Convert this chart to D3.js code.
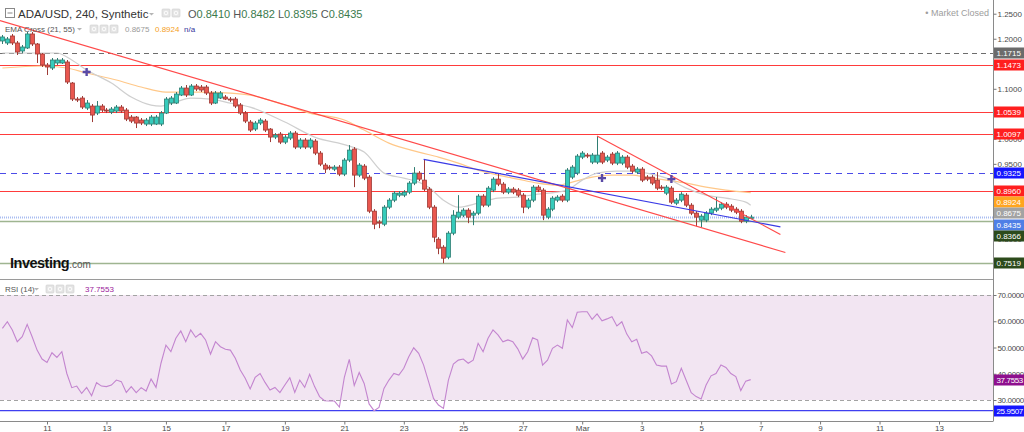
<!DOCTYPE html>
<html>
<head>
<meta charset="utf-8">
<script src="https://cdn.jsdelivr.net/npm/d3@7"></script>
<style>
  body { margin: 0; background: #fff; }
  svg { display: block; font-family: "Liberation Sans", Arial, sans-serif; }
</style>
</head>
<body>
<svg id="chart"></svg>
<script>
// ADA/USD 4h candles, first bar Feb 9 2021 12:00 UTC
const firstBar = Date.UTC(2021, 1, 9, 12);
const barHours = 4;

const opens = [
  1.1955, 1.1915, 1.2055, 1.1915, 1.1755, 1.1815, 1.2095, 1.1895, 1.1695, 1.1475,
  1.1415, 1.1515, 1.1515, 1.1535, 1.1115, 1.0795, 1.0815, 1.0615, 1.0655, 1.0515,
  1.0655, 1.0575, 1.0535, 1.0555, 1.0635, 1.0575, 1.0435, 1.0435, 1.0375, 1.0295,
  1.0295, 1.0295, 1.0295, 1.0515, 1.0715, 1.0715, 1.0875, 1.1015, 1.0875, 1.1055,
  1.1035, 1.1035, 1.0915, 1.0715, 1.0815, 1.0835, 1.0795, 1.0795, 1.0675, 1.0515,
  1.0335, 1.0195, 1.0315, 1.0355, 1.0195, 1.0035, 1.0095, 0.9935, 1.0015, 1.0115,
  0.9835, 0.9975, 0.9835, 0.9955, 0.9715, 0.9475, 0.9435, 0.9395, 0.9435, 0.9295,
  0.9575, 0.9795, 0.9275, 0.9455, 0.9235, 0.8555, 0.8335, 0.8295, 0.8635, 0.8775,
  0.8875, 0.8875, 0.8935, 0.9115, 0.9315, 0.9175, 0.8995, 0.8635, 0.7995, 0.7835,
  0.7635, 0.8115, 0.8435, 0.8475, 0.8575, 0.8475, 0.8515, 0.8855, 0.8675, 0.8975,
  0.9195, 0.9095, 0.8935, 0.8995, 0.8975, 0.8875, 0.8635, 0.8775, 0.9035, 0.8975,
  0.8435, 0.8595, 0.8775, 0.8855, 0.8775, 0.9235, 0.9315, 0.9635, 0.9675, 0.9535,
  0.9535, 0.9715, 0.9575, 0.9695, 0.9515, 0.9515, 0.9635, 0.9455, 0.9335, 0.9395,
  0.9235, 0.9235, 0.9175, 0.9035, 0.8915, 0.9015, 0.8715, 0.8775, 0.8875, 0.8675,
  0.8515, 0.8375, 0.8375, 0.8515, 0.8575, 0.8615, 0.8695, 0.8655, 0.8595, 0.8555,
  0.8355, 0.8410
];
const highs = [
  1.2075, 1.2035, 1.2095, 1.1955, 1.1875, 1.2135, 1.2135, 1.1915, 1.1715, 1.1515,
  1.1615, 1.1615, 1.1615, 1.1575, 1.1135, 1.0835, 1.0855, 1.0775, 1.0695, 1.0755,
  1.0695, 1.0615, 1.0635, 1.0675, 1.0675, 1.0615, 1.0475, 1.0455, 1.0415, 1.0415,
  1.0475, 1.0475, 1.0555, 1.0835, 1.0855, 1.0935, 1.1055, 1.1075, 1.1095, 1.1095,
  1.1075, 1.1075, 1.0955, 1.0955, 1.0955, 1.0875, 1.0835, 1.0835, 1.0715, 1.0555,
  1.0375, 1.0355, 1.0415, 1.0395, 1.0215, 1.0115, 1.0135, 1.0075, 1.0155, 1.0155,
  1.0015, 1.0015, 1.0015, 0.9995, 0.9755, 0.9515, 0.9475, 0.9475, 0.9475, 0.9615,
  0.9875, 0.9835, 0.9515, 0.9495, 0.9275, 0.8595, 0.8375, 0.8675, 0.8815, 0.8955,
  0.8955, 0.8975, 0.9155, 0.9435, 0.9355, 0.9595, 0.9035, 0.8675, 0.8035, 0.7875,
  0.8155, 0.8575, 0.8875, 0.8615, 0.8615, 0.8555, 0.8895, 0.8895, 0.9055, 0.9235,
  0.9315, 0.9135, 0.9035, 0.9035, 0.9015, 0.8915, 0.8815, 0.9075, 0.9075, 0.9015,
  0.8635, 0.8855, 0.8875, 0.8895, 0.9415, 0.9475, 0.9695, 0.9755, 0.9715, 0.9715,
  1.0055, 0.9755, 0.9675, 0.9735, 0.9755, 0.9675, 0.9675, 0.9495, 0.9435, 0.9435,
  0.9275, 0.9275, 0.9335, 0.9075, 0.9075, 0.9055, 0.8815, 0.8935, 0.8915, 0.8715,
  0.8555, 0.8495, 0.8555, 0.8635, 0.8835, 0.8735, 0.8735, 0.8695, 0.8635, 0.8595,
  0.8475, 0.8482
];
const lows = [
  1.1895, 1.1875, 1.1875, 1.1675, 1.1715, 1.1795, 1.1855, 1.1515, 1.1435, 1.1275,
  1.1375, 1.1475, 1.1495, 1.1095, 1.0755, 1.0735, 1.0595, 1.0575, 1.0335, 1.0475,
  1.0535, 1.0515, 1.0495, 1.0515, 1.0515, 1.0355, 1.0315, 1.0215, 1.0275, 1.0255,
  1.0255, 1.0275, 1.0255, 1.0495, 1.0675, 1.0695, 1.0855, 1.0835, 1.0855, 1.0955,
  1.0935, 1.0875, 1.0675, 1.0695, 1.0795, 1.0775, 1.0735, 1.0615, 1.0475, 1.0315,
  1.0135, 1.0155, 1.0275, 1.0135, 0.9935, 0.9995, 0.9895, 0.9895, 0.9975, 0.9795,
  0.9795, 0.9795, 0.9795, 0.9675, 0.9455, 0.9315, 0.9375, 0.9355, 0.9255, 0.9255,
  0.9535, 0.9035, 0.9235, 0.9175, 0.8515, 0.8195, 0.8215, 0.8255, 0.8595, 0.8735,
  0.8835, 0.8835, 0.8895, 0.9075, 0.9155, 0.8955, 0.8595, 0.7935, 0.7695, 0.7515,
  0.7595, 0.8075, 0.8395, 0.8435, 0.8315, 0.8275, 0.8475, 0.8635, 0.8635, 0.8935,
  0.9055, 0.8895, 0.8895, 0.8895, 0.8835, 0.8515, 0.8595, 0.8735, 0.8935, 0.8375,
  0.8395, 0.8555, 0.8735, 0.8735, 0.8735, 0.9195, 0.9275, 0.9595, 0.9615, 0.9495,
  0.9495, 0.9495, 0.9535, 0.9475, 0.9475, 0.9475, 0.9395, 0.9315, 0.9295, 0.9135,
  0.9155, 0.9075, 0.8975, 0.8975, 0.8875, 0.8695, 0.8675, 0.8735, 0.8635, 0.8475,
  0.8255, 0.8235, 0.8335, 0.8475, 0.8535, 0.8575, 0.8595, 0.8535, 0.8495, 0.8315,
  0.8315, 0.8395
];
const closes = [
  1.2035, 1.1995, 1.1915, 1.1735, 1.1835, 1.2095, 1.1895, 1.1695, 1.1475, 1.1435,
  1.1575, 1.1575, 1.1575, 1.1135, 1.0795, 1.0775, 1.0635, 1.0715, 1.0475, 1.0655,
  1.0575, 1.0555, 1.0595, 1.0635, 1.0555, 1.0395, 1.0355, 1.0315, 1.0315, 1.0375,
  1.0435, 1.0435, 1.0515, 1.0795, 1.0815, 1.0895, 1.1015, 1.0875, 1.1055, 1.0995,
  1.0975, 1.0915, 1.0715, 1.0915, 1.0915, 1.0795, 1.0775, 1.0655, 1.0515, 1.0355,
  1.0175, 1.0315, 1.0375, 1.0175, 1.0035, 1.0075, 0.9935, 1.0035, 1.0115, 0.9835,
  0.9975, 0.9835, 0.9975, 0.9715, 0.9495, 0.9395, 0.9415, 0.9435, 0.9295, 0.9575,
  0.9775, 0.9275, 0.9475, 0.9215, 0.8555, 0.8295, 0.8315, 0.8635, 0.8775, 0.8915,
  0.8915, 0.8935, 0.9115, 0.9315, 0.9195, 0.8995, 0.8635, 0.8035, 0.7815, 0.7615,
  0.8115, 0.8475, 0.8535, 0.8575, 0.8435, 0.8515, 0.8855, 0.8675, 0.9015, 0.9195,
  0.9095, 0.8935, 0.8995, 0.8935, 0.8875, 0.8635, 0.8775, 0.9035, 0.8975, 0.8475,
  0.8595, 0.8815, 0.8835, 0.8775, 0.9375, 0.9435, 0.9655, 0.9715, 0.9655, 0.9675,
  0.9675, 0.9535, 0.9635, 0.9515, 0.9715, 0.9635, 0.9435, 0.9355, 0.9395, 0.9175,
  0.9195, 0.9115, 0.9015, 0.9015, 0.9035, 0.8735, 0.8775, 0.8895, 0.8675, 0.8515,
  0.8435, 0.8455, 0.8515, 0.8595, 0.8615, 0.8695, 0.8635, 0.8575, 0.8535, 0.8355,
  0.8435, 0.8435
];

// EMA cross (21, 55) at a few bars
const ema21Bars = [0, 11, 14, 17, 22, 26, 30, 32, 35, 38, 42, 46, 50, 57, 63, 70, 73, 77, 81, 84,
  86, 89, 92, 96, 100, 104, 108, 112, 114, 117, 120, 124, 127, 130, 134, 138, 142, 146, 150, 151];
const ema21Values = [1.1715, 1.1715, 1.1575, 1.1375, 1.1115, 1.0835, 1.0675, 1.0655, 1.0735, 1.0815,
  1.0795, 1.0715, 1.0635, 1.0335, 1.0035, 0.9855, 0.9735, 0.9315, 0.9215, 0.9135,
  0.9035, 0.8775, 0.8635, 0.8715, 0.8815, 0.8835, 0.8895, 0.8935, 0.8975, 0.9175,
  0.9315, 0.9355, 0.9355, 0.9315, 0.9215, 0.9015, 0.8875, 0.8815, 0.8735, 0.8675];
const ema55Bars = [0, 8, 13, 17, 23, 28, 33, 40, 46, 50, 57, 62, 69, 73, 78, 84, 88, 92, 96, 100,
  104, 108, 112, 115, 119, 123, 127, 130, 134, 138, 142, 146, 151];
const ema55Values = [1.1415, 1.1455, 1.1415, 1.1315, 1.1175, 1.1035, 1.0935, 1.0935, 1.0915, 1.0875,
  1.0675, 1.0515, 1.0375, 1.0175, 0.9915, 0.9735, 0.9635, 0.9515, 0.9375, 0.9275,
  0.9195, 0.9115, 0.9075, 0.9135, 0.9235, 0.9275, 0.9275, 0.9235, 0.9175, 0.9115,
  0.9035, 0.8975, 0.8924];
const crossBars = [17, 121, 135];
const crossPrices = [1.1335, 0.9215, 0.9195];

// RSI (14), one value per bar
const rsiValues = [
  57.3, 59.8, 56.7, 52.2, 54.1, 58.8, 54.1, 49.0, 45.6, 44.3,
  48.0, 46.2, 48.4, 40.1, 34.7, 35.3, 32.5, 34.8, 31.6, 36.6,
  35.3, 35.1, 35.7, 37.6, 37.0, 32.9, 35.1, 32.8, 34.7, 33.4,
  38.0, 34.8, 44.0, 50.9, 48.4, 53.5, 56.3, 52.2, 56.7, 53.9,
  55.4, 52.9, 47.5, 52.2, 50.3, 49.3, 49.0, 45.9, 41.4, 38.3,
  34.2, 38.6, 40.1, 36.7, 33.8, 34.8, 32.8, 35.7, 38.5, 32.9,
  37.6, 34.8, 39.8, 35.1, 31.3, 29.7, 29.6, 29.6, 27.3, 38.6,
  45.5, 35.5, 40.5, 36.3, 28.5, 25.95, 27.2, 34.4, 37.6, 40.1,
  39.5, 42.1, 46.5, 49.9, 47.8, 43.3, 37.0, 30.6, 28.1, 26.8,
  37.6, 43.7, 45.2, 45.6, 44.0, 45.2, 51.6, 48.4, 53.5, 56.7,
  54.8, 52.2, 52.9, 52.2, 49.5, 45.6, 48.4, 53.7, 52.9, 43.3,
  45.2, 49.7, 50.9, 49.7, 60.5, 57.6, 63.4, 63.6, 63.6, 60.7,
  62.8, 60.2, 60.9, 61.7, 58.2, 59.8, 55.1, 52.2, 53.1, 47.8,
  48.4, 46.8, 43.3, 42.9, 42.9, 36.1, 37.0, 42.1, 37.4, 32.8,
  31.3, 30.4, 35.7, 39.2, 40.1, 43.3, 42.4, 40.1, 38.9, 33.6,
  37.2, 37.7553
];

// Horizontal levels and trend lines drawn on the chart
const levelPrices = [1.1715, 1.1473, 1.0539, 1.0097, 0.9325, 0.8960, 0.8435, 0.8366, 0.7519];
const levelKinds = ['grayDash', 'red', 'red', 'red', 'blueDash', 'red', 'lastDot', 'green', 'green'];
const trendStartBars = [-0.5, 120, 85];
const trendStartPrices = [1.2361, 1.0055, 0.9589];
const trendEndBars = [158, 157, 157];
const trendEndPrices = [0.7729, 0.8089, 0.8241];
const trendKinds = ['red', 'red', 'blue'];

// Right-hand price tags
const tagPrices = [1.1715, 1.1473, 1.0539, 1.0097, 0.9325, 0.8960, 0.8924, 0.8675, 0.8435, 0.8366, 0.7519];
const tagKinds = ['gray', 'red', 'red', 'red', 'blue', 'red', 'orange', 'silver', 'last', 'green', 'green'];
const rsiLevel = 25.9507;
const rsiTags = [37.7553, 25.9507];
const rsiTagKinds = ['purple', 'blue'];

const priceTicks = [1.25, 1.2, 1.15, 1.1, 1.05, 1.0, 0.95, 0.9, 0.85, 0.8, 0.75];
const rsiTicks = [70, 60, 50, 40, 30];
const ohlcLabels = ['O', 'H', 'L', 'C'];
const ohlcValues = ['0.8410', '0.8482', '0.8395', '0.8435'];

class CandleChart {

    constructor(_config) {
        this.config = {
            parentElement: _config.parentElement,
            containerWidth: _config.containerWidth || 1024,
            containerHeight: _config.containerHeight || 432,
            plotRight: 993,
            priceBottom: 279.5,
            axisY: 421.5
        }
        this.initVis();
    }

    initVis() {
        let vis = this;

        vis.svg = d3.select(vis.config.parentElement)
            .attr('width', vis.config.containerWidth)
            .attr('height', vis.config.containerHeight);

        vis.bars = closes.map((c, i) => ({
            i: i,
            time: vis.barTime(i),
            open: opens[i], high: highs[i], low: lows[i], close: c
        }));

        vis.xScale = d3.scaleUtc()
            .domain([new Date(Date.UTC(2021, 1, 11)), new Date(Date.UTC(2021, 2, 13))])
            .range([47, 939]);
        vis.yScale = d3.scaleLinear()
            .domain([1.1715, 0.7519])
            .range([53, 263]);
        vis.rsiScale = d3.scaleLinear()
            .domain([70, 30])
            .range([295, 400]);

        vis.svg.append('clipPath').attr('id', 'price-clip')
            .append('rect').attr('x', 0).attr('y', 0)
            .attr('width', vis.config.plotRight).attr('height', vis.config.priceBottom);

        vis.priceLayer = vis.svg.append('g').attr('clip-path', 'url(#price-clip)');
        vis.rsiLayer = vis.svg.append('g');
        vis.axisLayer = vis.svg.append('g');
        vis.legendLayer = vis.svg.append('g');

        vis.renderVis();
    }

    barTime(i) {
        return new Date(firstBar + i * barHours * 3600 * 1000);
    }

    renderVis() {
        let vis = this;
        const x = d => vis.xScale(d);
        const right = vis.config.plotRight;

        // level lines
        const levelStyle = {
            grayDash: { stroke: '#6d6d6d', width: 1, dash: '5,4' },
            red: { stroke: '#ff3b3b', width: 1, dash: null },
            blueDash: { stroke: '#4b4be8', width: 1.2, dash: '6,5' },
            lastDot: { stroke: '#a9bdf2', width: 2, dash: '1,1' },
            green: { stroke: '#9fb591', width: 1.5, dash: null }
        };
        vis.priceLayer.selectAll('.level')
            .data(levelPrices)
            .join('line')
                .attr('class', 'level')
                .attr('x1', 0).attr('x2', right)
                .attr('y1', d => Math.round(vis.yScale(d)) + 0.5)
                .attr('y2', d => Math.round(vis.yScale(d)) + 0.5)
                .attr('stroke', (d, i) => levelStyle[levelKinds[i]].stroke)
                .attr('stroke-width', (d, i) => levelStyle[levelKinds[i]].width)
                .attr('stroke-dasharray', (d, i) => levelStyle[levelKinds[i]].dash);

        // EMA lines
        const emaLine = d3.line()
            .x(d => x(vis.barTime(d[0])))
            .y(d => vis.yScale(d[1]))
            .curve(d3.curveMonotoneX);
        vis.priceLayer.append('path')
            .attr('d', emaLine(ema55Bars.map((b, i) => [b, ema55Values[i]])))
            .attr('fill', 'none').attr('stroke', '#ffc889').attr('stroke-width', 1.2);
        vis.priceLayer.append('path')
            .attr('d', emaLine(ema21Bars.map((b, i) => [b, ema21Values[i]])))
            .attr('fill', 'none').attr('stroke', '#cfcfcf').attr('stroke-width', 1.2);

        // candles
        const up = d => d.close >= d.open;
        vis.priceLayer.selectAll('.wick')
            .data(vis.bars)
            .join('line')
                .attr('class', 'wick')
                .attr('x1', d => Math.round(x(d.time)) + 0.5)
                .attr('x2', d => Math.round(x(d.time)) + 0.5)
                .attr('y1', d => vis.yScale(d.high))
                .attr('y2', d => vis.yScale(d.low))
                .attr('stroke', d => up(d) ? '#2f7d72' : '#9e3b36')
                .attr('stroke-width', 1);
        vis.priceLayer.selectAll('.body')
            .data(vis.bars)
            .join('rect')
                .attr('class', 'body')
                .attr('x', d => Math.round(x(d.time)) - 1.5)
                .attr('width', 4)
                .attr('y', d => vis.yScale(Math.max(d.open, d.close)))
                .attr('height', d => Math.max(1, Math.abs(vis.yScale(d.open) - vis.yScale(d.close))))
                .attr('fill', d => up(d) ? '#36cbbb' : '#e9574f')
                .attr('stroke', d => up(d) ? '#2f7d72' : '#9e3b36')
                .attr('stroke-width', 0.8);

        // trend lines
        const trendColor = { red: '#ff4a4a', blue: '#3a3ae6' };
        vis.priceLayer.selectAll('.trend')
            .data(trendKinds)
            .join('line')
                .attr('class', 'trend')
                .attr('x1', (d, i) => x(vis.barTime(trendStartBars[i])))
                .attr('y1', (d, i) => vis.yScale(trendStartPrices[i]))
                .attr('x2', (d, i) => x(vis.barTime(trendEndBars[i])))
                .attr('y2', (d, i) => vis.yScale(trendEndPrices[i]))
                .attr('stroke', d => trendColor[d])
                .attr('stroke-width', 1.2);

        // EMA cross markers
        const cross = vis.priceLayer.selectAll('.cross')
            .data(crossBars)
            .join('g')
                .attr('class', 'cross')
                .attr('transform', (d, i) => `translate(${x(vis.barTime(d))},${vis.yScale(crossPrices[i])})`);
        cross.append('path')
            .attr('d', 'M-4,0H4M0,-4V4')
            .attr('stroke', '#5a4aa6').attr('stroke-width', 2.4);

        // RSI panel
        vis.rsiLayer.append('rect')
            .attr('x', 0).attr('width', right)
            .attr('y', vis.rsiScale(70)).attr('height', vis.rsiScale(30) - vis.rsiScale(70))
            .attr('fill', '#f2e5f2');
        vis.rsiLayer.selectAll('.band')
            .data([70, 30])
            .join('line')
                .attr('class', 'band')
                .attr('x1', 0).attr('x2', right)
                .attr('y1', d => Math.round(vis.rsiScale(d)) + 0.5)
                .attr('y2', d => Math.round(vis.rsiScale(d)) + 0.5)
                .attr('stroke', '#a3a3a3').attr('stroke-dasharray', '4,3');
        vis.rsiLayer.append('line')
            .attr('x1', 0).attr('x2', right)
            .attr('y1', vis.rsiScale(rsiLevel)).attr('y2', vis.rsiScale(rsiLevel))
            .attr('stroke', '#3f3ff0').attr('stroke-width', 1.2);
        vis.rsiLayer.append('path')
            .attr('d', d3.line()
                .x((d, i) => x(vis.barTime(i)))
                .y(d => vis.rsiScale(d))(rsiValues))
            .attr('fill', 'none').attr('stroke', '#c385cf').attr('stroke-width', 1.1);

        // frame lines
        vis.axisLayer.append('line')
            .attr('x1', 0).attr('x2', right)
            .attr('y1', vis.config.priceBottom).attr('y2', vis.config.priceBottom)
            .attr('stroke', '#9a9a9a');
        vis.axisLayer.append('line')
            .attr('x1', 0).attr('x2', right)
            .attr('y1', vis.config.axisY).attr('y2', vis.config.axisY)
            .attr('stroke', '#8a8a8a');
        vis.axisLayer.append('line')
            .attr('x1', right + 0.5).attr('x2', right + 0.5)
            .attr('y1', 0).attr('y2', vis.config.axisY)
            .attr('stroke', '#8a8a8a');

        // price tags, stacked so they do not overlap
        let lastY = -100;
        const tags = tagPrices.map((p, i) => ({ value: p, kind: tagKinds[i] }))
            .sort((a, b) => b.value - a.value)
            .map(t => {
                t.y = Math.max(vis.yScale(t.value), lastY + 11.3);
                lastY = t.y;
                return t;
            });
        const rsiTagData = rsiTags.map((v, i) => ({ value: v, kind: rsiTagKinds[i], y: vis.rsiScale(v) }));

        // axes; tick labels sitting fully under a tag are left out
        const priceAxis = d3.axisRight(vis.yScale)
            .tickValues(priceTicks.filter(t => !tags.some(g => Math.abs(Math.round(g.y) - vis.yScale(t)) < 2.5)))
            .tickFormat(d3.format('.4f')).tickSize(3).tickPadding(1);
        const rsiAxis = d3.axisRight(vis.rsiScale)
            .tickValues(rsiTicks).tickFormat(d3.format('.4f')).tickSize(3).tickPadding(1);
        const timeAxis = d3.axisBottom(vis.xScale)
            .ticks(d3.utcDay.every(2))
            .tickFormat(d => d.getUTCDate() === 1 ? d3.utcFormat('%b')(d) : d3.utcFormat('%-d')(d))
            .tickSize(3).tickPadding(1);

        [[priceAxis, `translate(${right + 0.5},0)`, 0], [rsiAxis, `translate(${right + 0.5},0)`, -0.35],
         [timeAxis, `translate(0,${vis.config.axisY})`, 0]].forEach(([ax, tr, ls]) => {
            const g = vis.axisLayer.append('g').attr('transform', tr).call(ax);
            g.select('.domain').remove();
            g.selectAll('line').attr('stroke', '#777');
            g.selectAll('text').attr('fill', '#4a4a4a')
                .style('font-family', '"Liberation Sans", Arial, sans-serif')
                .style('font-size', '8px')
                .style('letter-spacing', ls + 'px');
        });

        const tagColor = {
            gray: '#6b6b6b', red: '#ff1f1f', blue: '#1616ff', orange: '#ffa51f',
            silver: '#a3a3a3', last: '#4f7fe6', green: '#2c4a1b', purple: '#8e0f8e'
        };
        const tagG = vis.axisLayer.selectAll('.tag')
            .data(tags.concat(rsiTagData))
            .join('g')
                .attr('class', 'tag')
                .attr('transform', d => `translate(${right + 1},${Math.round(d.y)})`);
        tagG.append('rect')
            .attr('x', 0).attr('y', -5.5).attr('width', 31).attr('height', 11)
            .attr('fill', d => tagColor[d.kind]);
        tagG.append('text')
            .attr('x', 2.5).attr('y', 3)
            .attr('fill', '#fff')
            .style('font-size', '8px')
            .style('letter-spacing', d => d.value >= 10 ? '-0.35px' : '0px')
            .text(d => d3.format('.4f')(d.value));

        vis.renderLegend();
    }

    renderLegend() {
        let vis = this;
        const lg = vis.legendLayer;

        const iconBox = (x0, y0) => {
            lg.append('rect').attr('x', x0).attr('y', y0).attr('width', 8).attr('height', 8)
                .attr('rx', 1).attr('fill', '#e4e4e4').attr('stroke', '#cfcfcf').attr('stroke-width', 0.6);
            lg.append('circle').attr('cx', x0 + 4).attr('cy', y0 + 4).attr('r', 1.8)
                .attr('fill', 'none').attr('stroke', '#fff').attr('stroke-width', 0.9);
        };
        const caret = (x0, y0) => {
            lg.append('path').attr('d', `M${x0},${y0}h5l-2.5,2.5z`).attr('fill', '#b5b5b5');
        };

        // title row
        lg.append('rect').attr('x', 5.5).attr('y', 8.5).attr('width', 9).attr('height', 9)
            .attr('fill', 'none').attr('stroke', '#888');
        lg.append('line').attr('x1', 7.5).attr('x2', 12.5).attr('y1', 13).attr('y2', 13).attr('stroke', '#888');
        lg.append('text').attr('x', 18).attr('y', 18)
            .attr('fill', '#333').style('font-size', '11.5px')
            .text('ADA/USD, 240, Synthetic');
        caret(149, 13);
        iconBox(162, 9);
        iconBox(172, 9);
        const ohlc = lg.append('text').attr('x', 188).attr('y', 18).style('font-size', '11px');
        ohlcLabels.forEach((l, i) => {
            ohlc.append('tspan').attr('fill', '#555').text((i ? ' ' : '') + l);
            ohlc.append('tspan').attr('fill', '#3b7a4d').text(ohlcValues[i]);
        });

        // EMA row
        lg.append('text').attr('x', 5).attr('y', 32)
            .attr('fill', '#555').style('font-size', '8px').text('EMA Cross (21, 55)');
        caret(77, 28);
        iconBox(90, 25); iconBox(100, 25); iconBox(110, 25);
        lg.append('text').attr('x', 125).attr('y', 32).attr('fill', '#9a9a9a')
            .style('font-size', '8px').text(d3.format('.4f')(ema21Values[ema21Values.length - 1]));
        lg.append('text').attr('x', 155).attr('y', 32).attr('fill', '#f5a01e')
            .style('font-size', '8px').text(d3.format('.4f')(ema55Values[ema55Values.length - 1]));
        lg.append('text').attr('x', 184).attr('y', 32).attr('fill', '#33339a')
            .style('font-size', '8px').text('n/a');

        // RSI row
        lg.append('text').attr('x', 5).attr('y', 292)
            .attr('fill', '#555').style('font-size', '8px').text('RSI (14)');
        caret(34, 288);
        iconBox(46, 285); iconBox(56, 285); iconBox(66, 285);
        lg.append('text').attr('x', 85).attr('y', 292).attr('fill', '#9b1a9b')
            .style('font-size', '8px').text(d3.format('.4f')(rsiValues[rsiValues.length - 1]));

        // market status and logo
        lg.append('text').attr('x', 989).attr('y', 16).attr('text-anchor', 'end')
            .attr('fill', '#9d9d9d').style('font-size', '9px').text('\u2022 Market Closed');
        const logo = lg.append('text').attr('x', 10).attr('y', 268);
        logo.append('tspan').attr('fill', '#111').style('font-size', '14.5px').style('font-weight', 'bold')
            .style('letter-spacing', '-0.5px').text('Investing');
        logo.append('tspan').attr('fill', '#555').style('font-size', '10px').text('.com');
    }
}

const chart = new CandleChart({ parentElement: '#chart' });
</script>
</body>
</html>
